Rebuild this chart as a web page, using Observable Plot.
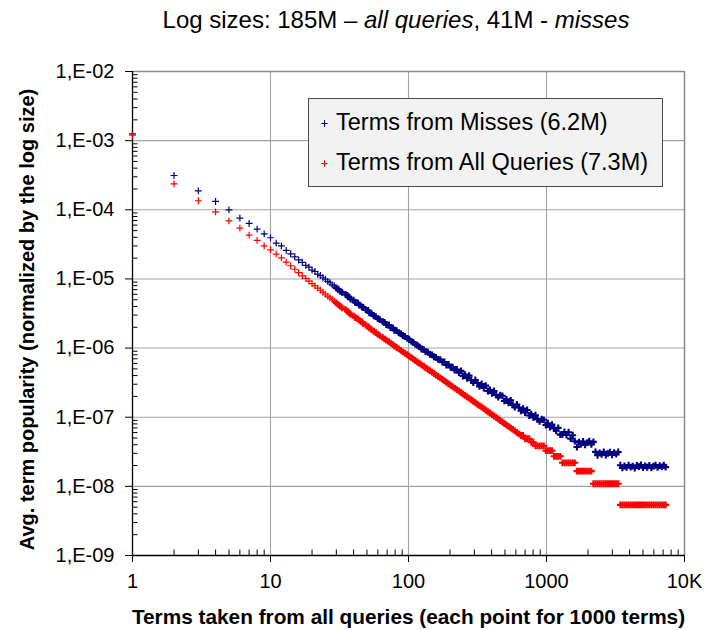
<!DOCTYPE html>
<html>
<head>
<meta charset="utf-8">
<script src="https://cdn.jsdelivr.net/npm/d3@7"></script>
<script src="https://cdn.jsdelivr.net/npm/@observablehq/plot@0.6"></script>
<style>
  body { margin: 0; background: #fff; font-family: "Liberation Sans", Arial, sans-serif; }
  #chart { position: relative; width: 706px; height: 630px; overflow: hidden; }
  #title { height: 44px; line-height: 40px; font-size: 24px; text-align: center;
           padding-left: 86px; box-sizing: border-box; color: #000; white-space: nowrap; }
  #legend { position: absolute; left: 308px; top: 98px; width: 355px; height: 89px;
            box-sizing: border-box; background: #f2f2f2; border: 1.5px solid #4a4a4a;
            padding-top: 3px; }
  #legend .row { height: 40px; line-height: 40px; font-size: 23.5px; white-space: nowrap; color: #000; }
  #legend svg { width: 9px; height: 9px; margin-left: 11px; margin-right: 7px; vertical-align: 2px; }
</style>
</head>
<body>
<div id="chart">
  <div id="title">Log sizes: 185M – <i>all queries</i>, 41M - <i>misses</i></div>
  <div id="plot"></div>
  <div id="legend"></div>
</div>
<script>
// Each point averages 1000 terms; x is the point's rank index.
const pointIndex = [
  1, 2, 3, 4, 5, 6, 7, 8, 9, 10,
  11, 12, 13, 14, 15, 16, 17, 18, 19, 20,
  21, 22, 23, 24, 25, 26, 27, 28, 29,
  30, 31, 32, 33, 35, 36, 37, 38, 40, 41,
  43, 44, 46, 47, 49, 51, 52, 54, 56, 58,
  60, 62, 65, 67, 69, 72, 74, 77, 79, 82,
  85, 88, 91, 94, 98, 101, 105, 108, 112, 116,
  120, 124, 129, 133, 138, 143, 148, 153, 158, 164,
  170, 176, 182, 188, 195, 202, 209, 216, 224, 232,
  240, 248, 257, 266, 275, 285, 295, 305, 316, 327,
  339, 351, 363, 376, 389, 403, 417, 432, 447, 462,
  479, 495, 513, 531, 550, 569, 589, 610, 631, 653,
  676, 700, 724, 750, 776, 804, 832, 861, 891, 923,
  955, 989, 1023, 1059, 1096, 1135, 1175, 1216, 1259, 1303,
  1349, 1396, 1445, 1496, 1549, 1603, 1660, 1718, 1778, 1841,
  1905, 1972, 2042, 2113, 2188, 2265, 2344, 2427, 2512, 2600,
  2692, 2786, 2884, 2985, 3090, 3199, 3311, 3428, 3548, 3673,
  3802, 3936, 4074, 4217, 4365, 4519, 4677, 4842, 5012, 5188,
  5370, 5559, 5754, 5957, 6166, 6383, 6607, 6839, 7079, 7300
];

// Average term popularity, terms from misses
const missesAvg = [
  1.25e-3, 3.13e-4, 1.88e-4, 1.32e-4, 9.98e-5, 7.57e-5, 6.34e-5, 5.25e-5, 4.49e-5, 3.94e-5,
  3.30e-5, 3.01e-5, 2.59e-5, 2.31e-5, 2.09e-5, 1.88e-5, 1.74e-5, 1.57e-5, 1.48e-5, 1.34e-5,
  1.28e-5, 1.17e-5, 1.12e-5, 1.04e-5, 9.9e-6, 9.2e-6, 8.8e-6, 8.2e-6, 7.9e-6,
  7.4e-6, 7.1e-6, 6.6e-6, 6.4e-6, 5.95e-6, 5.75e-6, 5.5e-6, 5.1e-6, 4.92e-6, 4.6e-6,
  4.48e-6, 4.2e-6, 3.95e-6, 3.86e-6, 3.6e-6, 3.5e-6, 3.24e-6, 3.15e-6, 2.93e-6, 2.85e-6,
  2.66e-6, 2.58e-6, 2.41e-6, 2.35e-6, 2.18e-6, 2.16e-6, 1.98e-6, 1.96e-6, 1.81e-6, 1.79e-6,
  1.66e-6, 1.61e-6, 1.52e-6, 1.47e-6, 1.38e-6, 1.34e-6, 1.25e-6, 1.21e-6, 1.13e-6, 1.10e-6,
  1.04e-6, 9.7e-7, 9.5e-7, 8.9e-7, 8.7e-7, 8.15e-7, 7.98e-7, 7.5e-7, 7.33e-7, 6.85e-7,
  6.8e-7, 6.25e-7, 6.3e-7, 5.7e-7, 5.8e-7, 5.25e-7, 5.3e-7, 4.8e-7, 4.9e-7, 4.42e-7,
  4.68e-7, 3.94e-7, 4.13e-7, 3.66e-7, 3.99e-7, 3.43e-7, 3.16e-7, 3.46e-7, 3.13e-7, 2.79e-7,
  3.02e-7, 2.65e-7, 2.86e-7, 2.39e-7, 2.49e-7, 2.22e-7, 2.40e-7, 2.10e-7, 1.95e-7, 2.09e-7,
  2.04e-7, 1.72e-7, 1.81e-7, 1.61e-7, 1.75e-7, 1.51e-7, 1.40e-7, 1.53e-7, 1.38e-7, 1.24e-7,
  1.33e-7, 1.17e-7, 1.27e-7, 1.06e-7, 1.11e-7, 9.9e-8, 1.07e-7, 9.35e-8, 8.71e-8, 9.36e-8,
  9.17e-8, 7.73e-8, 8.18e-8, 7.21e-8, 7.82e-8, 6.87e-8, 6.36e-8, 7.01e-8, 5.6e-8, 5.61e-8,
  6.11e-8, 5.52e-8, 6.07e-8, 4.9e-8, 5.48e-8, 4.5e-8, 3.7e-8, 4.35e-8, 4.1e-8, 4.45e-8,
  3.98e-8, 4.3e-8, 4.5e-8, 4.05e-8, 4.4e-8, 3.15e-8, 2.82e-8, 3.05e-8, 2.9e-8, 3.16e-8,
  2.84e-8, 3.0e-8, 3.12e-8, 2.86e-8, 3.08e-8, 2.93e-8, 3.14e-8, 2.02e-8, 1.85e-8, 1.97e-8,
  1.88e-8, 2.03e-8, 1.9e-8, 1.96e-8, 1.84e-8, 2.0e-8, 1.93e-8, 2.04e-8, 1.87e-8, 1.98e-8,
  1.89e-8, 2.01e-8, 1.86e-8, 1.95e-8, 2.03e-8, 1.88e-8, 1.99e-8, 1.91e-8, 2.02e-8, 1.9e-8
];

// Average term popularity, terms from all queries
const allQueriesAvg = [
  1.20e-3, 2.37e-4, 1.35e-4, 9.33e-5, 6.92e-5, 5.42e-5, 4.30e-5, 3.61e-5, 3.01e-5, 2.64e-5,
  2.29e-5, 2.02e-5, 1.75e-5, 1.55e-5, 1.38e-5, 1.23e-5, 1.11e-5, 1.02e-5, 9.31e-6, 8.57e-6,
  7.93e-6, 7.36e-6, 6.86e-6, 6.41e-6, 6.00e-6, 5.65e-6, 5.32e-6, 5.04e-6, 4.76e-6,
  4.48e-6, 4.25e-6, 4.02e-6, 3.81e-6, 3.61e-6, 3.43e-6, 3.24e-6, 3.08e-6, 2.92e-6, 2.77e-6,
  2.64e-6, 2.51e-6, 2.38e-6, 2.26e-6, 2.15e-6, 2.04e-6, 1.94e-6, 1.85e-6, 1.75e-6, 1.67e-6,
  1.58e-6, 1.50e-6, 1.43e-6, 1.36e-6, 1.30e-6, 1.24e-6, 1.18e-6, 1.12e-6, 1.07e-6, 1.02e-6,
  9.73e-7, 9.27e-7, 8.83e-7, 8.41e-7, 8.02e-7, 7.64e-7, 7.28e-7, 6.93e-7, 6.61e-7, 6.30e-7,
  6.00e-7, 5.71e-7, 5.45e-7, 5.19e-7, 4.94e-7, 4.71e-7, 4.49e-7, 4.28e-7, 4.07e-7, 3.88e-7,
  3.70e-7, 3.52e-7, 3.36e-7, 3.20e-7, 3.05e-7, 2.90e-7, 2.77e-7, 2.64e-7, 2.51e-7, 2.39e-7,
  2.28e-7, 2.17e-7, 2.07e-7, 1.97e-7, 1.87e-7, 1.79e-7, 1.70e-7, 1.62e-7, 1.54e-7, 1.47e-7,
  1.40e-7, 1.33e-7, 1.26e-7, 1.20e-7, 1.15e-7, 1.09e-7, 1.04e-7, 9.89e-8, 9.42e-8, 8.95e-8,
  8.53e-8, 8.11e-8, 7.73e-8, 7.36e-8, 7.00e-8, 6.67e-8, 6.34e-8, 6.04e-8, 5.75e-8, 5.43e-8,
  5.43e-8, 4.89e-8, 4.89e-8, 4.89e-8, 4.35e-8, 4.35e-8, 3.85e-8, 3.85e-8, 3.85e-8, 3.85e-8,
  3.85e-8, 3.28e-8, 3.28e-8, 3.28e-8, 3.28e-8, 2.72e-8, 2.72e-8, 2.72e-8, 2.72e-8, 2.19e-8,
  2.19e-8, 2.19e-8, 2.19e-8, 2.19e-8, 2.19e-8, 2.19e-8, 1.66e-8, 1.66e-8, 1.66e-8, 1.66e-8,
  1.66e-8, 1.66e-8, 1.66e-8, 1.66e-8, 1.09e-8, 1.09e-8, 1.09e-8, 1.09e-8, 1.09e-8, 1.09e-8,
  1.09e-8, 1.09e-8, 1.09e-8, 1.09e-8, 1.09e-8, 1.09e-8, 1.09e-8, 5.4e-9, 5.4e-9, 5.4e-9,
  5.4e-9, 5.4e-9, 5.4e-9, 5.4e-9, 5.4e-9, 5.4e-9, 5.4e-9, 5.4e-9, 5.4e-9, 5.4e-9,
  5.4e-9, 5.4e-9, 5.4e-9, 5.4e-9, 5.4e-9, 5.4e-9, 5.4e-9, 5.4e-9, 5.4e-9, 5.4e-9
];

const seriesNames = ["Terms from Misses (6.2M)", "Terms from All Queries (7.3M)"];
const seriesColors = ["#000080", "#ff0000"];

const xTickValues = [1, 10, 100, 1000, 10000];
const xTickLabels = ["1", "10", "100", "1000", "10K"];
const yTickValues = [1e-9, 1e-8, 1e-7, 1e-6, 1e-5, 1e-4, 1e-3, 1e-2];
const yTickLabels = ["1,E-09", "1,E-08", "1,E-07", "1,E-06", "1,E-05", "1,E-04", "1,E-03", "1,E-02"];

const xTitle = "Terms taken from all queries (each point for 1000 terms)";
const yTitle = "Avg. term popularity (normalized by the log size)";

// Layout
const W = 706, H = 586;
const M = {top: 27, right: 22, bottom: 75, left: 132};
const plotW = W - M.left - M.right;
const plotH = H - M.top - M.bottom;

// Minor log ticks (2..9 within each decade)
const minorX = [];
for (let d = 1; d < 10000; d *= 10) for (let m = 2; m < 10; m++) minorX.push(d * m);
const minorY = [];
for (let e = -9; e < -2; e++) for (let m = 2; m < 10; m++) minorY.push(m * Math.pow(10, e));

const gridX = xTickValues.slice(1, -1);
const gridY = yTickValues.slice(1, -1);

// Where points crowd together the crosses merge into a solid band
const markWidth = (d, i) => (pointIndex[i] < 30 ? 1.2 : 2.1);

const chart = Plot.plot({
  width: W,
  height: H,
  marginTop: M.top,
  marginRight: M.right,
  marginBottom: M.bottom,
  marginLeft: M.left,
  x: {type: "log", domain: [1, 10000], axis: null},
  y: {type: "log", domain: [1e-9, 1e-2], axis: null},
  style: {fontFamily: '"Liberation Sans", Arial, sans-serif', background: "white", color: "black", overflow: "visible"},
  marks: [
    // grid
    Plot.ruleY(gridY, {stroke: "#a3a3a3", strokeWidth: 1.1}),
    Plot.ruleX(gridX, {stroke: "#a3a3a3", strokeWidth: 1.1}),
    // top and right frame
    Plot.ruleY([1e-2], {stroke: "#8a8a8a", strokeWidth: 1.5}),
    Plot.ruleX([10000], {stroke: "#8a8a8a", strokeWidth: 1.5}),
    // minor ticks, pointing inward
    Plot.ruleY(minorY, {stroke: "black", insetRight: plotW - 5.5}),
    Plot.ruleX(minorX, {stroke: "black", insetTop: plotH - 5.5}),
    // major ticks, pointing outward
    Plot.ruleY(yTickValues, {stroke: "black", dx: -7, insetRight: plotW - 7}),
    Plot.ruleX(xTickValues, {stroke: "black", dy: 7, insetTop: plotH - 7}),
    // axis lines
    Plot.ruleX([1], {stroke: "black", strokeWidth: 1.3}),
    Plot.ruleY([1e-9], {stroke: "black", strokeWidth: 1.3}),
    // series
    Plot.dot(missesAvg, {x: pointIndex, y: missesAvg, symbol: "plus", r: 2.35,
      stroke: seriesColors[0], strokeWidth: markWidth}),
    Plot.dot(allQueriesAvg, {x: pointIndex, y: allQueriesAvg, symbol: "plus", r: 2.35,
      stroke: seriesColors[1], strokeWidth: markWidth}),
    // tick labels
    Plot.text(yTickValues, {y: d => d, frameAnchor: "left", dx: -18, textAnchor: "end",
      lineAnchor: "middle", text: (d, i) => yTickLabels[i], fontSize: 20, fill: "black"}),
    Plot.text(xTickValues, {x: d => d, frameAnchor: "bottom", dy: 26, lineAnchor: "middle",
      text: (d, i) => xTickLabels[i], fontSize: 20, fill: "black"}),
    // axis titles
    Plot.text([xTitle], {text: d => d, frameAnchor: "bottom", dy: 62, lineAnchor: "middle",
      textAnchor: "middle", fontWeight: "bold", fontSize: 20.8, fill: "black"}),
    Plot.text([yTitle], {text: d => d, frameAnchor: "left", dx: -105, dy: 6, rotate: -90,
      textAnchor: "middle", lineAnchor: "middle", fontWeight: "bold", fontSize: 20, fill: "black"})
  ]
});
document.getElementById("plot").appendChild(chart);

// Legend box
const legend = d3.select("#legend");
seriesNames.forEach((name, i) => {
  const row = legend.append("div").attr("class", "row");
  const svg = row.append("svg").attr("viewBox", "0 0 10 10");
  svg.append("path").attr("d", "M1.5,5H8.5M5,1.5V8.5")
    .attr("stroke", seriesColors[i]).attr("stroke-width", 1.2).attr("fill", "none");
  row.append("span").text(name);
});
</script>
</body>
</html>
